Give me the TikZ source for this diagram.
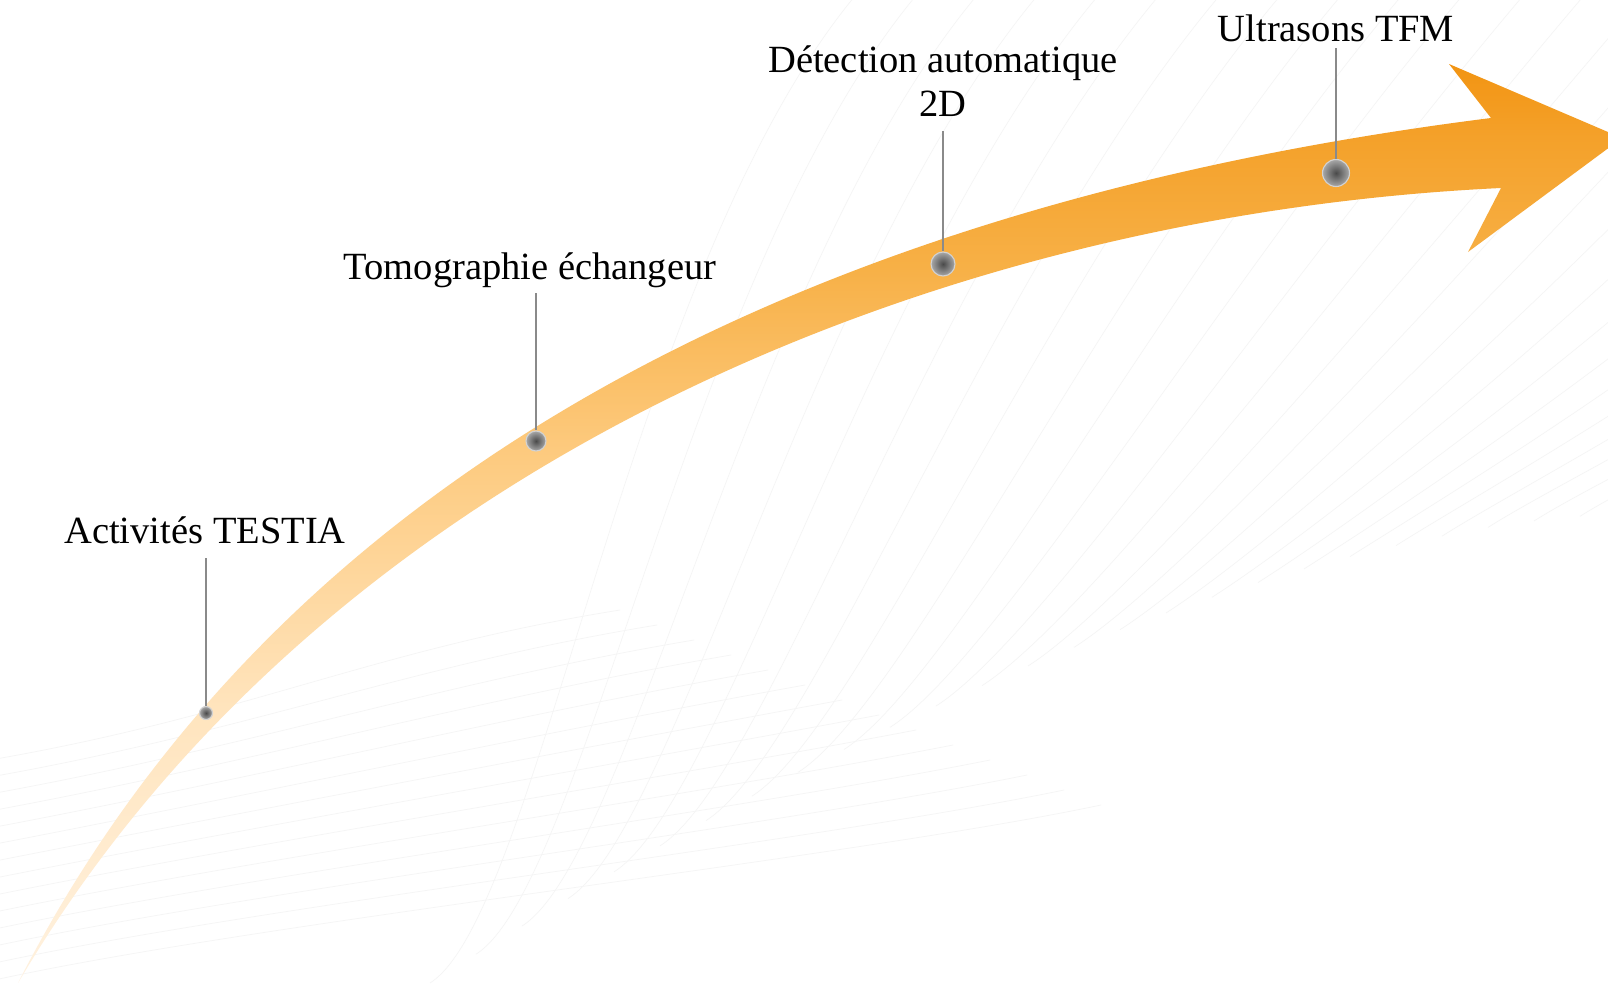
\documentclass[tikz,border=0pt]{standalone}
\usepackage{fontspec}
\setmainfont{Liberation Serif}

% band colours, pale tail to saturated head
\definecolor{fadeA}{HTML}{FFF2E0}
\definecolor{fadeB}{HTML}{FFE4BD}
\definecolor{fadeC}{HTML}{FDCA7E}
\definecolor{fadeD}{HTML}{F7B046}
\definecolor{fadeE}{HTML}{F4A12A}
\definecolor{fadeF}{HTML}{F29412}
\definecolor{stemgray}{HTML}{8A8A8A}
\definecolor{knobcore}{HTML}{4A4A4A}
\definecolor{knobedge}{HTML}{A8A8A8}
\definecolor{knobrim}{HTML}{D2D2D2}
\definecolor{texture}{HTML}{F5F5F5}

\pgfdeclareverticalshading{bandfade}{100bp}{%
  color(0bp)=(fadeA); color(25bp)=(fadeA); color(40bp)=(fadeB);
  color(54bp)=(fadeC); color(64bp)=(fadeD); color(71bp)=(fadeE);
  color(75bp)=(fadeF); color(100bp)=(fadeF)}

\begin{document}
\begin{tikzpicture}[x=1pt,y=-1pt,
  tag/.style={font=\fontsize{38.5}{44}\selectfont, inner sep=0pt, text=black},
  stem/.style={draw=stemgray, line cap=butt},
  knob/.style={circle, inner sep=0pt, draw=knobrim, line width=1.1pt,
    inner color=knobcore, outer color=knobedge},
  bgline/.style={draw=texture, line width=0.7pt}]

\useasboundingbox[fill=white] (0,0) rectangle (1608,983);

% faint texture: fan of strands rising to the upper right
\foreach \k in {0,...,25}{
  \pgfmathsetmacro{\xs}{430+46*\k}
  \pgfmathsetmacro{\ys}{515+468*((1610-\xs)/1180)^1.6}
  \pgfmathsetmacro{\xe}{\xs+430+0.32*(\xs-430)}
  \draw[bgline] (\xs,\ys) .. controls ({\xs+110},{\ys-70}) and ({\xe-230},260) .. (\xe,-10);
}
% faint texture: long strands sweeping across the lower left
\foreach \k in {0,...,13}{
  \pgfmathsetmacro{\xe}{620+37*\k}
  \draw[bgline] (-10,{760+17*\k}) .. controls (250,{715+16*\k}) and ({\xe-250},{650+16*\k}) .. (\xe,{610+15*\k});
}

% the rising band with its arrow head
\shade[shading=bandfade]
  (18,983) .. controls (300,430) and (880,195) .. (1491,118)
  -- (1449,64) -- (1622,138) -- (1468,252) -- (1501,188)
  .. controls (930,215) and (320,470) .. (18,983) -- cycle;

% milestones on the band
\node[knob, minimum size=13pt] (k1) at (206,713) {};
\node[knob, minimum size=20pt] (k2) at (536,441) {};
\node[knob, minimum size=24pt] (k3) at (943,264) {};
\node[knob, minimum size=27pt] (k4) at (1336,173) {};

% captions
\node[tag, anchor=base] (t1) at (205,543) {Activités TESTIA};
\node[tag, anchor=base] (t2) at (530,279) {Tomographie échangeur};
\node[tag, anchor=south, align=center] (t3) at (943,117) {Détection automatique\\2D};
\node[tag, anchor=base] (t4) at (1336,41) {Ultrasons TFM};

% leader lines from captions down to the milestones
\coordinate (s1) at (206,558);
\coordinate (s2) at (536,293);
\coordinate (s3) at (943,131);
\coordinate (s4) at (1336,48);
\draw[stem, line width=1.3pt] (s1) -- (k1.north);
\draw[stem, line width=1.8pt] (s2) -- (k2.north);
\draw[stem, line width=2.2pt] (s3) -- (k3.north);
\draw[stem, line width=2.4pt] (s4) -- (k4.north);

\end{tikzpicture}
\end{document}
